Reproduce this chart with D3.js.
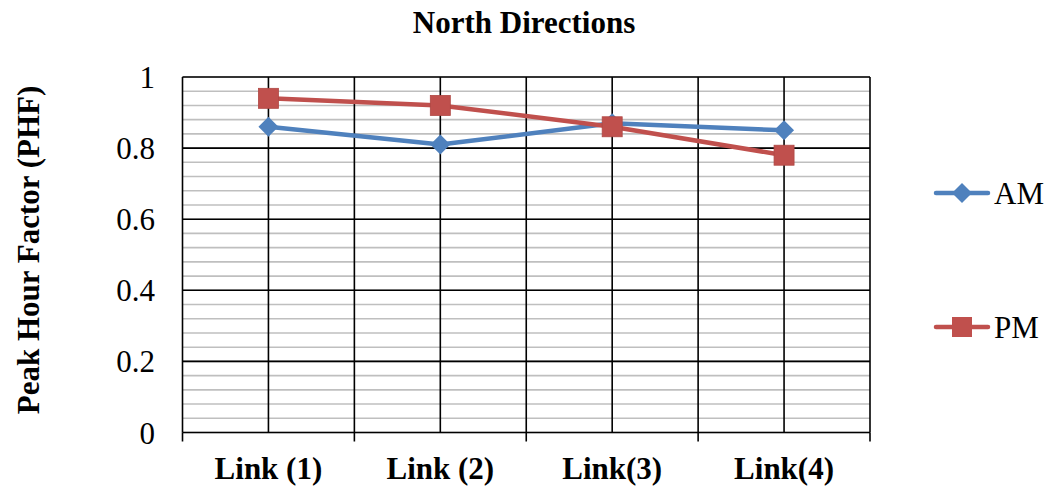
<!DOCTYPE html>
<html><head><meta charset="utf-8">
<script src="https://cdn.jsdelivr.net/npm/d3@7/dist/d3.min.js"></script>
<style>body{margin:0;background:#fff}svg{display:block}text{font-family:"Liberation Serif","Times New Roman",serif}</style>
</head><body>
<svg id="c" width="1050" height="488"></svg>
<script>
const categories = ["Link (1)", "Link (2)", "Link(3)", "Link(4)"];
const amValues = [0.86, 0.81, 0.87, 0.85];
const pmValues = [0.94, 0.92, 0.86, 0.78];
const yTicks = [0, 0.2, 0.4, 0.6, 0.8, 1];
const minorTicks = d3.range(0, 1.0001, 0.04);
const seriesNames = ["AM", "PM"];
const colors = ["#4F81BD", "#C0504D"];

const svg = d3.select("#c");
const L = 182.5, R = 870, T = 77, B = 432.5;
const x = d3.scaleBand().domain(categories).range([L, R]);
const y = d3.scaleLinear().domain([0, 1]).range([B, T]);

// minor grid
svg.append("g").selectAll("line").data(minorTicks).join("line")
  .attr("x1", L).attr("x2", R).attr("y1", d => y(d)).attr("y2", d => y(d))
  .attr("stroke", "#bfbfbf").attr("stroke-width", 1.6);
// major grid
svg.append("g").selectAll("line").data(yTicks).join("line")
  .attr("x1", L).attr("x2", R).attr("y1", d => y(d)).attr("y2", d => y(d))
  .attr("stroke", "#000").attr("stroke-width", 1.6);
// vertical grid at centers and boundaries
const vx = [];
categories.forEach(c => { vx.push(x(c)); vx.push(x(c) + x.bandwidth() / 2); });
vx.push(R);
svg.append("g").selectAll("line").data(vx).join("line")
  .attr("x1", d => d).attr("x2", d => d).attr("y1", T).attr("y2", B)
  .attr("stroke", "#000").attr("stroke-width", 1.6);

// x axis with ticks at boundaries
const bounds = categories.map(c => x(c)).concat([R]);
svg.append("g").selectAll("line").data(bounds).join("line")
  .attr("x1", d => d).attr("x2", d => d).attr("y1", B).attr("y2", B + 9)
  .attr("stroke", "#000").attr("stroke-width", 1.6);

// y labels
svg.append("g").selectAll("text").data(yTicks).join("text")
  .attr("x", 155).attr("y", d => y(d) + 11).attr("text-anchor", "end")
  .attr("font-size", 31).text(d => d3.format("~g")(d));

// x labels
svg.append("g").selectAll("text").data(categories).join("text")
  .attr("x", d => x(d) + x.bandwidth() / 2).attr("y", 479).attr("text-anchor", "middle")
  .attr("font-size", 31).attr("font-weight", "bold").text(d => d);

// title
svg.append("text").attr("x", 524).attr("y", 33).attr("text-anchor", "middle")
  .attr("font-size", 31).attr("font-weight", "bold").text("North Directions");
// y title
svg.append("text").attr("transform", "translate(39,250) rotate(-90)").attr("text-anchor", "middle")
  .attr("font-size", 31).attr("font-weight", "bold").text("Peak Hour Factor (PHF)");

const line = d3.line().x((d, i) => x(categories[i]) + x.bandwidth() / 2).y(d => y(d));
const diamond = (cx, cy, r) => `M${cx},${cy - r}L${cx + r},${cy}L${cx},${cy + r}L${cx - r},${cy}Z`;

[amValues, pmValues].forEach((vals, si) => {
  svg.append("path").datum(vals).attr("d", line).attr("fill", "none")
    .attr("stroke", colors[si]).attr("stroke-width", 4.5).attr("stroke-linejoin", "round");
  const g = svg.append("g");
  vals.forEach((v, i) => {
    const cx = x(categories[i]) + x.bandwidth() / 2, cy = y(v);
    if (si === 0) g.append("path").attr("d", diamond(cx, cy, 10)).attr("fill", colors[0]);
    else g.append("rect").attr("x", cx - 10).attr("y", cy - 10).attr("width", 20).attr("height", 20)
      .attr("fill", colors[1]).attr("stroke", "#b04844").attr("stroke-width", 0.8);
  });
});

// legend
const legY = [193, 327];
seriesNames.forEach((n, si) => {
  const g = svg.append("g");
  g.append("line").attr("x1", 936).attr("x2", 988).attr("y1", legY[si]).attr("y2", legY[si])
    .attr("stroke", colors[si]).attr("stroke-width", 4.5).attr("stroke-linecap", "round");
  if (si === 0) g.append("path").attr("d", diamond(962, legY[si], 10)).attr("fill", colors[0]);
  else g.append("rect").attr("x", 952).attr("y", legY[si] - 10).attr("width", 20).attr("height", 20).attr("fill", colors[1]);
  g.append("text").attr("x", 994).attr("y", legY[si] + 11).attr("font-size", 31).text(n);
});
</script>
</body></html>
